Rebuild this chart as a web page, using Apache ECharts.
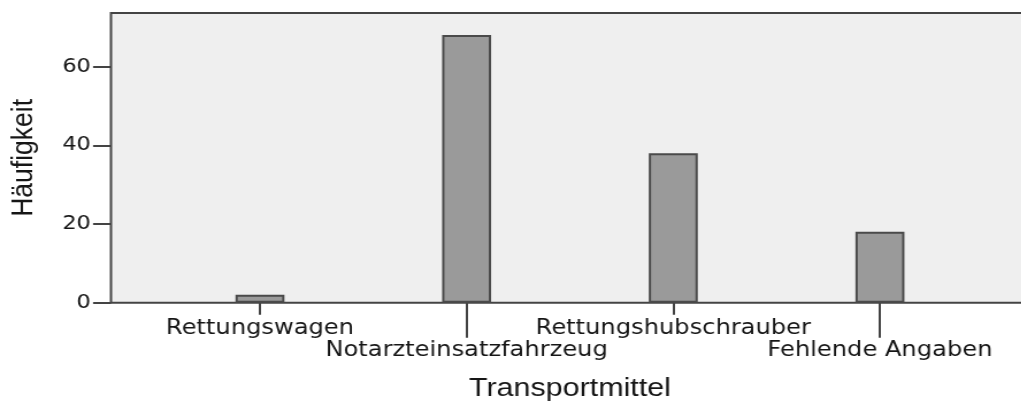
<!DOCTYPE html>
<html>
<head>
<meta charset="utf-8">
<script src="https://cdn.jsdelivr.net/npm/echarts@6/dist/echarts.min.js"></script>
<style>
html,body{margin:0;padding:0;background:#fff;overflow:hidden;}
#chart{width:888px;height:403px;transform:scaleX(1.15);transform-origin:0 0;}
</style>
</head>
<body>
<div id="chart"></div>
<script>
const categories = ['Rettungswagen', 'Notarzteinsatzfahrzeug', 'Rettungshubschrauber', 'Fehlende Angaben'];
const counts = [2, 68, 38, 18];
const yTicks = [0, 20, 40, 60];
const yMax = 73.6;
const xTitle = 'Transportmittel';
const yTitle = 'Häufigkeit';

const chart = echarts.init(document.getElementById('chart'));
const labelFont = {fontFamily: 'DejaVu Sans', fontSize: 21, color: '#161616'};
const nameFont = {fontFamily: 'Liberation Sans', fontSize: 26.5, color: '#161616'};

chart.setOption({
  animation: false,
  backgroundColor: '#ffffff',
  grid: [
    {left: 96.5, top: 13, width: 820, height: 289.7, show: true, outerBoundsMode: 'none',
     backgroundColor: '#efefef', borderColor: '#444', borderWidth: 2},
    {left: 136.2, top: 13, width: 718.8, height: 289.7, show: false, outerBoundsMode: 'none'}
  ],
  xAxis: [
    {type: 'category', gridIndex: 0, data: categories, axisLine: {show: false},
     axisTick: {show: false}, axisLabel: {show: false}, splitLine: {show: false}},
    {type: 'category', gridIndex: 1, data: categories, position: 'bottom',
     axisLine: {show: false},
     axisTick: {show: true, alignWithLabel: true, length: 12, interval: (i) => i % 2 === 0,
                lineStyle: {color: '#444', width: 2}},
     axisLabel: Object.assign({interval: (i) => i % 2 === 0, margin: 15}, labelFont),
     name: xTitle, nameLocation: 'middle', nameGap: 72, nameTextStyle: nameFont},
    {type: 'category', gridIndex: 1, data: categories, position: 'bottom',
     axisLine: {show: false},
     axisTick: {show: true, alignWithLabel: true, length: 35, interval: (i) => i % 2 === 1,
                lineStyle: {color: '#444', width: 2}},
     axisLabel: Object.assign({interval: (i) => i % 2 === 1, margin: 37}, labelFont)}
  ],
  yAxis: [
    {type: 'value', gridIndex: 0, min: 0, max: yMax,
     axisLine: {show: false},
     axisTick: {show: true, length: 15.6, customValues: yTicks, lineStyle: {color: '#444', width: 2}},
     axisLabel: Object.assign({customValues: yTicks, margin: 17.5}, labelFont, {fontSize: 19.5}),
     splitLine: {show: false},
     name: yTitle, nameLocation: 'middle', nameGap: 62, nameTextStyle: nameFont},
    {type: 'value', gridIndex: 1, min: 0, max: yMax, show: false, splitLine: {show: false}}
  ],
  series: [{
    type: 'bar', xAxisIndex: 1, yAxisIndex: 1, data: counts, barWidth: 42.6,
    itemStyle: {color: '#9a9a9a', borderColor: '#4a4a4a', borderWidth: 2}
  }]
});
</script>
</body>
</html>
